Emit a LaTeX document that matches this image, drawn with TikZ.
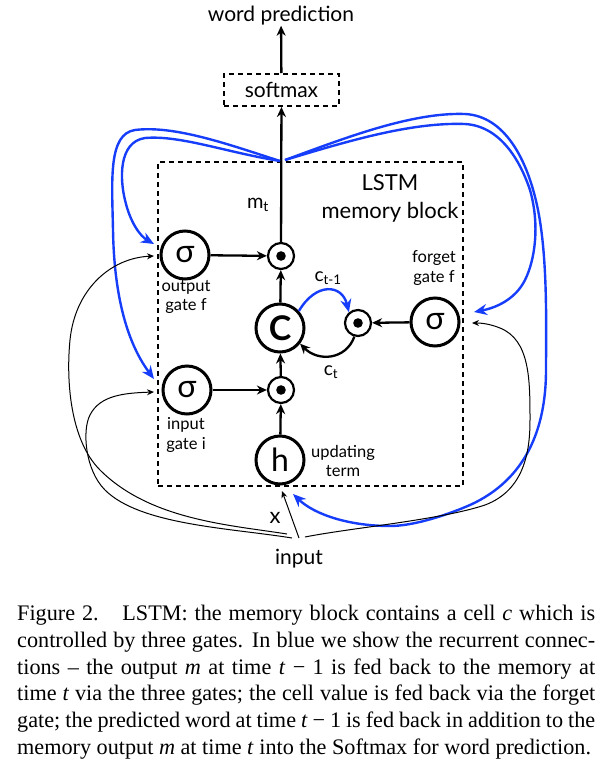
\documentclass[tikz,border=0pt]{standalone}
\usepackage{fontspec}
\setmainfont{Liberation Serif}
\newfontfamily\gill{Lato}
\usetikzlibrary{arrows.meta}
\definecolor{lstmblue}{RGB}{22,62,250}
\begin{document}
\begin{tikzpicture}[x=1pt,y=-1pt,
  gate/.style={circle,draw,line width=3pt,minimum size=48pt,inner sep=0pt,font=\gill\fontsize{32}{32}\selectfont},
  prod/.style={circle,draw,line width=2.2pt,minimum size=26pt,inner sep=0pt},
  lab/.style={font=\gill\fontsize{16.5}{19.5}\selectfont,align=center,inner sep=0pt},
  big/.style={font=\gill\fontsize{21}{24}\selectfont,inner sep=0pt},
  arr/.style={line width=2.3pt,-{Stealth[length=10pt,width=9pt]}},
  barr/.style={line width=2.4pt,draw=lstmblue,-{Stealth[length=13pt,width=11pt]}},
  thinarr/.style={line width=1pt,-{Stealth[length=7pt,width=6pt]}},
  dbox/.style={draw,line width=2pt,dash pattern=on 5pt off 4pt},
  captext/.style={font=\fontsize{22.2}{26.7}\selectfont,text width=578pt,align=justify,inner sep=0pt,anchor=north west}]
\useasboundingbox (0,0) rectangle (611,766);

% main frame
\node[dbox,minimum width=305pt,minimum height=324pt,inner sep=0pt] (blk) at (310.5,324) {};
\node[dbox,minimum width=115pt,minimum height=32pt,big] (sm) at (281.5,90) {softmax};
\node[big] (wp) at (281,16) {word prediction};

% gates
\node[gate] (og) at (185,255) {σ};
\node[gate] (ig) at (187,390) {σ};
\node[gate] (fg) at (435,322) {σ};
\node[gate,font=\gill\fontsize{34}{34}\selectfont\bfseries] (c) at (280,328) {C};
\node[gate] (h) at (280,460) {h};

% products
\node[prod] (p1) at (281,256) {};
\node[prod] (p2) at (281,390) {};
\node[prod] (pf) at (358,323) {};
\fill (p1.center) circle (4.8pt);
\fill (p2.center) circle (4.8pt);
\fill (pf.center) circle (4.8pt);

% labels
\node[font=\gill\fontsize{20}{22}\selectfont,inner sep=0pt] (mt) at (258,205) {m\textsubscript{t}};
\node[font=\gill\fontsize{22}{28}\selectfont,align=center,inner sep=0pt] (lstm) at (390,198) {LSTM\\memory block};
\node[lab] (ogl) at (186,297) {output\\gate f};
\node[lab] (fgl) at (434,268) {forget\\gate f};
\node[lab] (igl) at (186,435) {input\\gate i};
\node[lab] (hl) at (343,461) {updating\\term};
\node[font=\gill\fontsize{19}{20}\selectfont,inner sep=0pt] (ctm) at (328,278) {c\textsubscript{t-1}};
\node[font=\gill\fontsize{19}{20}\selectfont,inner sep=0pt] (ct) at (331,372) {c\textsubscript{t}};
\node[font=\gill\fontsize{22}{22}\selectfont,inner sep=0pt] (xl) at (275,518) {x};
\node[big] (in) at (299,559) {input};

% black flow arrows
\draw[arr] (og) -- (p1);
\draw[arr] (ig) -- (p2);
\draw[arr] (h) -- (p2);
\draw[arr] (p2) -- (c);
\draw[arr] (c) -- (p1);
\draw[arr] (p1) -- (sm);
\draw[arr] (sm) -- (wp);
\draw[arr] (fg) -- (pf);
\draw[arr] (pf.255) .. controls (346,360) and (318,362) .. (c.-38);
\draw[barr] (c.42) .. controls (316,282) and (342,284) .. (pf.130);

% blue recurrent connections
\coordinate (tl) at (280,161);
\coordinate (tr) at (285,160);
\coordinate (ogB) at (154,244);
\coordinate (igB) at (154,379);
\coordinate (fgB) at (474,312);
\coordinate (hB) at (293,494);
\draw[barr] (tl) .. controls (230,145) and (175,125) .. (135,130)
  .. controls (108,134) and (112,180) .. (113,230)
  .. controls (114,290) and (125,340) .. (igB);
\draw[barr] (tl) .. controls (225,152) and (180,135) .. (145,138)
  .. controls (118,142) and (120,180) .. (125,200)
  .. controls (130,222) and (140,236) .. (ogB);
\draw[barr] (tr) .. controls (340,140) and (410,112) .. (465,114)
  .. controls (505,116) and (528,160) .. (538,210)
  .. controls (548,260) and (546,330) .. (546,370)
  .. controls (546,430) and (525,480) .. (470,505)
  .. controls (440,518) and (410,526) .. (390,526)
  .. controls (350,526) and (315,515) .. (hB);
\draw[barr] (tr) .. controls (345,142) and (410,122) .. (465,124)
  .. controls (500,126) and (520,160) .. (530,190)
  .. controls (540,225) and (535,260) .. (525,280)
  .. controls (515,300) and (495,308) .. (fgB);

% black input connections
\coordinate (sA) at (287,534);
\coordinate (sB) at (292,538);
\coordinate (sH) at (299,538);
\coordinate (sF) at (305,537);
\coordinate (ogA) at (154,256);
\coordinate (igA) at (154,392);
\coordinate (fgA) at (472,323);
\coordinate (hA) at (282,491);
\draw[thinarr] (sH) -- (hA);
\draw[thinarr] (sA) .. controls (230,525) and (150,520) .. (100,470)
  .. controls (70,440) and (66,380) .. (70,340)
  .. controls (75,290) and (110,258) .. (ogA);
\draw[thinarr] (sB) .. controls (230,528) and (140,525) .. (105,490)
  .. controls (85,470) and (82,430) .. (90,415)
  .. controls (100,395) and (125,393) .. (igA);
\draw[thinarr] (sF) .. controls (350,528) and (440,520) .. (485,505)
  .. controls (525,490) and (530,450) .. (530,420)
  .. controls (530,380) and (530,340) .. (500,328)
  .. controls (490,324) and (482,323) .. (fgA);

% caption
\node[captext] (capt) at (17,605) {Figure 2.\hspace{0.55em} LSTM: the memory block contains a cell \textit{c} which is\linebreak
controlled by three gates. In blue we show the recurrent connec-\linebreak
tions – the output \textit{m} at time \textit{t} − 1 is fed back to the memory at\linebreak
time \textit{t} via the three gates; the cell value is fed back via the forget\linebreak
gate; the predicted word at time \textit{t} − 1 is fed back in addition to the\linebreak
memory output \textit{m} at time \textit{t} into the Softmax for word prediction.};
\end{tikzpicture}
\end{document}
